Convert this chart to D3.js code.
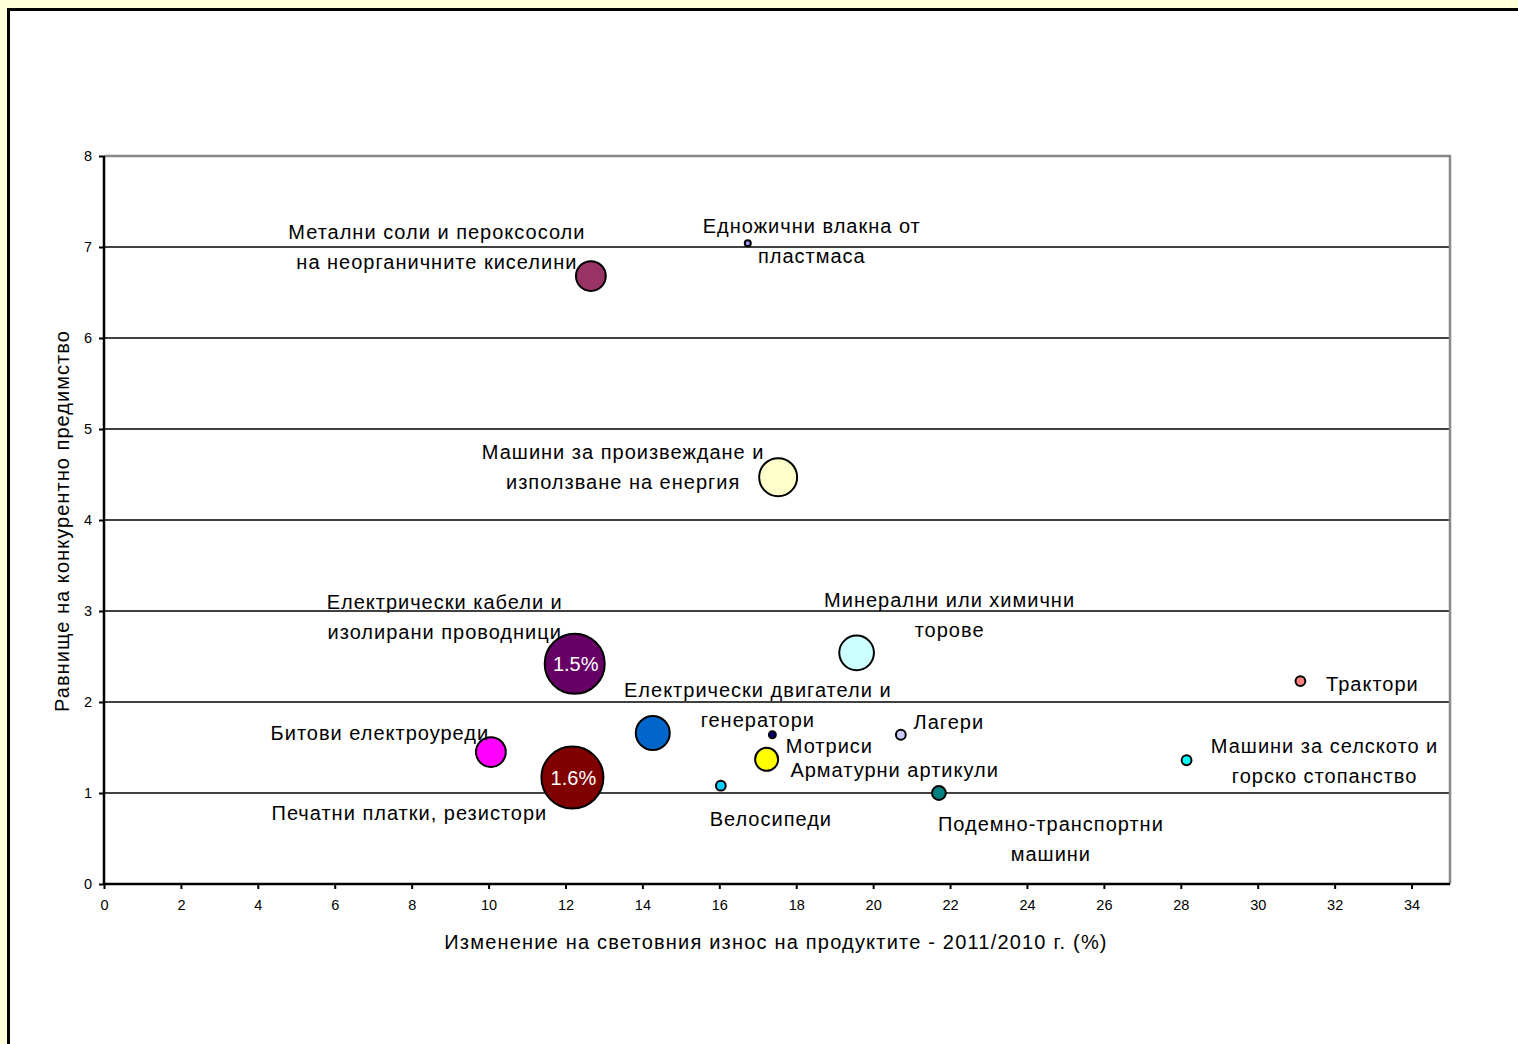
<!DOCTYPE html>
<html><head><meta charset="utf-8">
<script src="https://cdn.jsdelivr.net/npm/d3@7"></script>
<style>
html,body{margin:0;padding:0;background:#ffffdc;}
svg{display:block;font-family:"Liberation Sans",Arial,sans-serif;}
</style></head>
<body><svg id="c" width="1518" height="1044"></svg>
<script>
// Data
const names = [
  ["Метални соли и пероксосоли","на неорганичните киселини"],
  ["Едножични влакна от","пластмаса"],
  ["Машини за произвеждане и","използване на енергия"],
  ["Електрически кабели и","изолирани проводници"],
  ["Минерални или химични","торове"],
  ["Трактори"],
  ["Електрически двигатели и","генератори"],
  ["Мотриси"],
  ["Арматурни артикули"],
  ["Лагери"],
  ["Битови електроуреди"],
  ["Машини за селското и","горско стопанство"],
  ["Печатни платки, резистори"],
  ["Велосипеди"],
  ["Подемно-транспортни","машини"]
];
const xValues = [12.66, 16.74, 17.53, 12.24, 19.57, 31.11, 14.27, 17.38, 17.23, 20.72, 10.06, 28.15, 12.18, 16.04, 21.71];
const yValues = [6.68, 7.04, 4.47, 2.42, 2.54, 2.23, 1.66, 1.64, 1.37, 1.64, 1.45, 1.36, 1.17, 1.08, 1.00];
const sizes   = [0.37, 0.015, 0.6, 1.5, 0.5, 0.04, 0.48, 0.02, 0.22, 0.04, 0.37, 0.04, 1.6, 0.04, 0.08];
const bubbleLabels = ["", "", "", "1.5%", "", "", "", "", "", "", "", "", "1.6%", "", ""];
const colors = ["#993366","#9999ff","#ffffcc","#660066","#ccffff","#ff8080","#0066cc","#000080","#ffff00","#ccccff","#ff00ff","#00ffff","#800000","#00ccff","#008080"];
// label offsets (px) relative to bubble center: first line center
const labelOffsets = [[-154,-44],[64,-17],[-155,-25],[-130,-62],[93,-53],[72,3],[105,-43],[57,11],[128,11],[48,-13],[-111,-19],[138,-14],[-163,35],[50,33],[112,31]];
const xTicks = d3.range(0, 35, 2);
const yTicks = d3.range(0, 9, 1);
const xTitle = "Изменение на световния износ на продуктите - 2011/2010 г. (%)";
const yTitle = "Равнище на конкурентно предимство";

const svg = d3.select("#c");
// outer frame
svg.append("rect").attr("x",8.5).attr("y",9.5).attr("width",1540).attr("height",1100)
  .attr("fill","#fff").attr("stroke","#000").attr("stroke-width",3);

const L=104, R=1450, T=156, B=884;
const x = d3.scaleLinear().domain([0,35]).range([L,R]);
const y = d3.scaleLinear().domain([0,8]).range([B,T]);
const r = d3.scaleSqrt().domain([0,1.6]).range([0,31]);

const g = svg.append("g");
// gridlines
g.selectAll("line.grid").data(yTicks.filter(d=>d>0 && d<8)).join("line")
  .attr("x1",L).attr("x2",R).attr("y1",d=>y(d)).attr("y2",d=>y(d))
  .attr("stroke","#000").attr("stroke-width",1.6);
// top & right border gray
g.append("line").attr("x1",L).attr("x2",R+1).attr("y1",T).attr("y2",T).attr("stroke","#888").attr("stroke-width",2.5);
g.append("line").attr("x1",R).attr("x2",R).attr("y1",T).attr("y2",B).attr("stroke","#888").attr("stroke-width",2.5);

// axes
const xAxis = d3.axisBottom(x).tickValues(xTicks).tickSize(5).tickPadding(11);
const yAxis = d3.axisLeft(y).tickValues(yTicks).tickSize(5).tickPadding(7);
const gx = svg.append("g").attr("transform",`translate(0,${B})`).call(xAxis);
const gy = svg.append("g").attr("transform",`translate(${L},0)`).call(yAxis);
[gx,gy].forEach(a=>{
  a.select(".domain").attr("stroke","#000").attr("stroke-width",2.5);
  a.selectAll(".tick line").attr("stroke","#000").attr("stroke-width",2);
  a.selectAll(".tick text").attr("font-size",14.5).attr("fill","#000")
   .attr("font-family","'Liberation Sans',Arial,sans-serif");
});
gx.select(".domain").attr("d",`M${L},0H${R}`);
gy.select(".domain").attr("d",`M0,${B}V${T}`);

// titles
svg.append("text").attr("x",776).attr("y",949).attr("text-anchor","middle")
  .attr("font-size",20).attr("letter-spacing",1.2).attr("fill","#000").text(xTitle);
svg.append("text").attr("transform","translate(69,521) rotate(-90)").attr("text-anchor","middle")
  .attr("font-size",20).attr("letter-spacing",1.05).attr("fill","#000").text(yTitle);

// bubbles
const idx = d3.range(names.length).sort((a,b)=>sizes[b]-sizes[a]);
svg.append("g").selectAll("circle").data(idx).join("circle")
  .attr("cx",i=>x(xValues[i])).attr("cy",i=>y(yValues[i])).attr("r",i=>r(sizes[i]))
  .attr("fill",i=>colors[i]).attr("stroke","#000").attr("stroke-width",2);

svg.append("g").selectAll("text").data(idx.filter(i=>bubbleLabels[i])).join("text")
  .attr("x",i=>x(xValues[i])+1).attr("y",i=>y(yValues[i])+7).attr("text-anchor","middle")
  .attr("font-size",20).attr("fill","#fff").text(i=>bubbleLabels[i]);

// category labels
const lg = svg.append("g");
names.forEach((lines,i)=>{
  const cx = x(xValues[i])+labelOffsets[i][0];
  const cy = y(yValues[i])+labelOffsets[i][1];
  const t = lg.append("text").attr("text-anchor","middle").attr("font-size",20).attr("fill","#000")
    .attr("letter-spacing",1.0);
  lines.forEach((s,k)=>{
    t.append("tspan").attr("x",cx).attr("y",cy+7+k*30).text(s);
  });
});
</script></body></html>
